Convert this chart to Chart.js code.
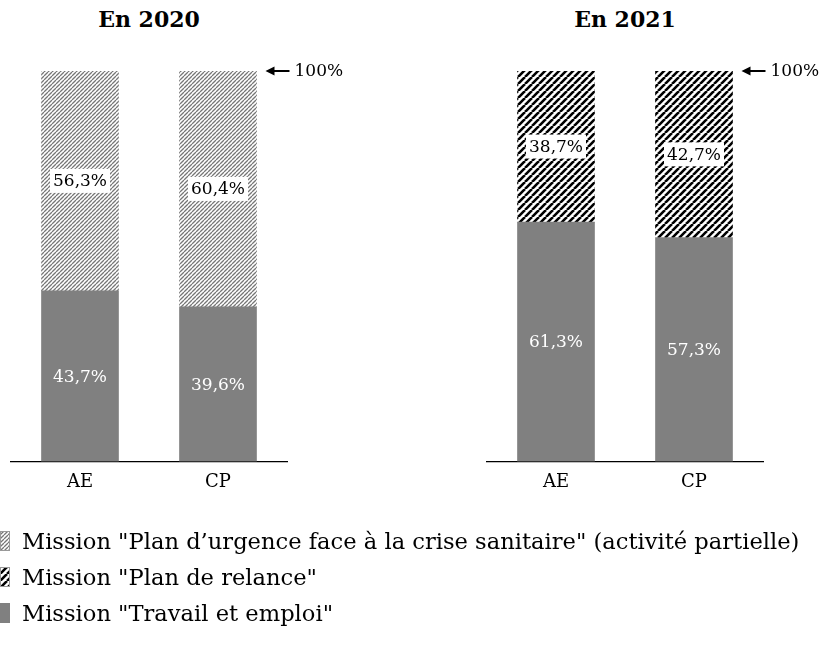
<!DOCTYPE html>
<html lang="fr">
<head>
<meta charset="utf-8">
<title>Répartition AE / CP par mission</title>
<script src="https://cdn.jsdelivr.net/npm/chart.js@4/dist/chart.umd.min.js"></script>
<style>
  html, body { margin: 0; padding: 0; background: #fff; }
  #page { position: relative; width: 821px; height: 647px; overflow: hidden; background: #fff; font-family: 'DejaVu Serif', serif; color: #000; }
  .titre { position: absolute; top: 6px; font-weight: bold; font-size: 22px; text-align: center; width: 276px; }
  .bloc { position: absolute; top: 0; }
  #legende { position: absolute; left: 0; top: 523px; }
  .ligne { height: 36px; display: flex; align-items: center; font-size: 22.6px; white-space: nowrap; }
  .ligne canvas { margin-right: 12px; }
</style>
</head>
<body>
<div id="page">
  <div class="titre" style="left: 11px;">En 2020</div>
  <div class="titre" style="left: 487px;">En 2021</div>
  <div class="bloc" style="left: 0;"><canvas id="chart2020" width="360" height="511"></canvas></div>
  <div class="bloc" style="left: 476px;"><canvas id="chart2021" width="345" height="511"></canvas></div>
  <div id="legende"></div>
</div>
<script>
// Données (en % du total de chaque colonne)
const categories = ['AE', 'CP'];
const travail2020 = [43.7, 39.6];
const urgence2020 = [56.3, 60.4];
const travail2021 = [61.3, 57.3];
const relance2021 = [38.7, 42.7];

const libelles = {
    urgence: 'Mission "Plan d\u2019urgence face à la crise sanitaire" (activité partielle)',
    relance: 'Mission "Plan de relance"',
    travail: 'Mission "Travail et emploi"'
};

const POLICE = "'DejaVu Serif', serif";
const GRIS = '#808080';

// Hachures diagonales ("/") sous forme de motif répété
function hachure(pas, epaisseur, couleur) {
    const c = document.createElement('canvas');
    c.width = pas; c.height = pas;
    const ctx = c.getContext('2d');
    ctx.fillStyle = '#fff';
    ctx.fillRect(0, 0, pas, pas);
    ctx.strokeStyle = couleur;
    ctx.lineWidth = epaisseur;
    ctx.beginPath();
    for (let k = -1; k <= 1; k++) {
        ctx.moveTo(k * pas, pas);
        ctx.lineTo(k * pas + pas, 0);
    }
    ctx.stroke();
    return ctx.createPattern(c, 'repeat');
}

const motifUrgence = hachure(4, 1.3, '#767676');
const motifRelance = hachure(7, 2.6, '#000');

// Étiquettes de valeur + flèche "100%"
const etiquettes = {
    id: 'etiquettes',
    afterDatasetsDraw(chart) {
        const ctx = chart.ctx;
        ctx.save();
        ctx.font = '17px ' + POLICE;
        ctx.textAlign = 'center';
        ctx.textBaseline = 'middle';
        chart.data.datasets.forEach((ds, i) => {
            const meta = chart.getDatasetMeta(i);
            meta.data.forEach((bar, j) => {
                const txt = ds.data[j].toFixed(1).replace('.', ',') + '%';
                const y = (bar.y + bar.base) / 2;
                if (ds.hachure) {
                    const w = ctx.measureText(txt).width;
                    ctx.fillStyle = '#fff';
                    ctx.fillRect(bar.x - w / 2 - 3, y - 12, w + 6, 24);
                    ctx.fillStyle = '#000';
                } else {
                    ctx.fillStyle = '#fff';
                }
                ctx.fillText(txt, bar.x, y + 1);
            });
        });

        // flèche vers le haut de la dernière colonne
        const derniere = chart.getDatasetMeta(1).data[1];
        const y100 = chart.scales.y.getPixelForValue(100);
        const x0 = derniere.x + derniere.width / 2 + 9;
        ctx.strokeStyle = '#000';
        ctx.fillStyle = '#000';
        ctx.lineWidth = 2;
        ctx.beginPath();
        ctx.moveTo(x0 + 6, y100);
        ctx.lineTo(x0 + 24, y100);
        ctx.stroke();
        ctx.beginPath();
        ctx.moveTo(x0, y100);
        ctx.lineTo(x0 + 9, y100 - 4.5);
        ctx.lineTo(x0 + 9, y100 + 4.5);
        ctx.closePath();
        ctx.fill();
        ctx.textAlign = 'left';
        ctx.fillText('100%', x0 + 29, y100 + 1);
        ctx.restore();
    }
};

function creerGraphique(id, travail, autre, libelleAutre, motif, padDroite) {
    const ctx = document.getElementById(id).getContext('2d');
    return new Chart(ctx, {
        type: 'bar',
        data: {
            labels: categories,
            datasets: [
                { label: libelles.travail, data: travail, backgroundColor: GRIS, barThickness: 77 },
                { label: libelleAutre, data: autre, backgroundColor: motif, barThickness: 77, hachure: true }
            ]
        },
        options: {
            responsive: false,
            animation: false,
            events: [],
            layout: { padding: { top: 71, left: 11, right: padDroite, bottom: 8 } },
            plugins: { legend: { display: false }, tooltip: { enabled: false } },
            scales: {
                x: {
                    stacked: true,
                    grid: { display: false, drawTicks: false },
                    border: { color: '#000', width: 1.2 },
                    ticks: { color: '#000', font: { family: POLICE, size: 18 }, padding: 10 }
                },
                y: { stacked: true, display: false, min: 0, max: 100 }
            }
        },
        plugins: [etiquettes]
    });
}

creerGraphique('chart2020', travail2020, urgence2020, libelles.urgence, motifUrgence, 73);
creerGraphique('chart2021', travail2021, relance2021, libelles.relance, motifRelance, 58);

// Légende commune
const legende = document.getElementById('legende');
[[motifUrgence, libelles.urgence], [motifRelance, libelles.relance], [GRIS, libelles.travail]].forEach(([fond, texte]) => {
    const ligne = document.createElement('div');
    ligne.className = 'ligne';
    const c = document.createElement('canvas');
    c.width = 10; c.height = 20;
    const cx = c.getContext('2d');
    cx.fillStyle = fond;
    cx.fillRect(0, 0, 10, 20);
    if (fond !== GRIS) {
        cx.strokeStyle = '#999';
        cx.strokeRect(0.5, 0.5, 9, 19);
    }
    ligne.appendChild(c);
    const span = document.createElement('span');
    span.textContent = texte;
    ligne.appendChild(span);
    legende.appendChild(ligne);
});
</script>
</body>
</html>
